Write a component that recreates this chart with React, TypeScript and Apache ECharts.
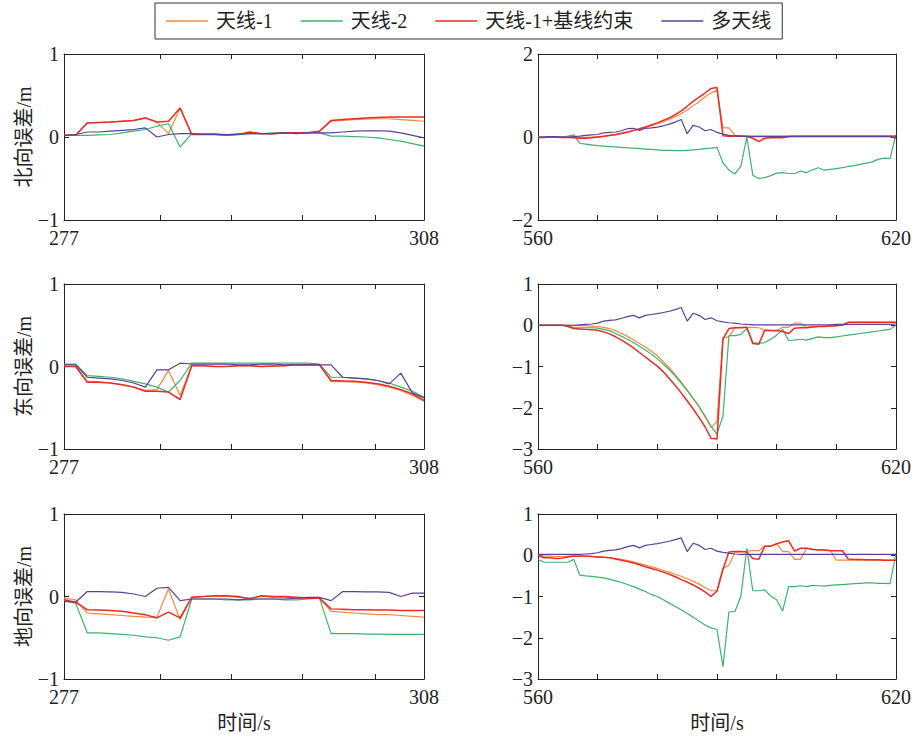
import React, { useEffect, useRef } from "react";
import * as echarts from "echarts";

// ---------- axes / categories ----------
const timeL = [277, 278, 279, 280, 281, 282, 283, 284, 285, 286, 287, 288, 289, 290, 291, 292, 293, 294, 295, 296, 297, 298, 299, 300, 301, 302, 303, 304, 305, 306, 307, 308];
const timeR = [560, 561, 562, 563, 564, 565, 566, 567, 568, 569, 570, 571, 572, 573, 574, 575, 576, 577, 578, 579, 580, 581, 582, 583, 584, 585, 586, 587, 588, 589, 590, 591, 592, 593, 594, 595, 596, 597, 598, 599, 600, 601, 602, 603, 604, 605, 606, 607, 608, 609, 610, 611, 612, 613, 614, 615, 616, 617, 618, 619, 620];
const leftTickValues = [285.3, 291.4, 297.5, 303.8];
const rightTickValues = [570, 580, 590, 600, 610];
const leftLabelValues = [277, 308];
const rightLabelValues = [560, 620];

const seriesNames = ["天线-1", "天线-2", "天线-1+基线约束", "多天线"];
const seriesColors = ["#F58A3B", "#3BB46B", "#EE2A24", "#5B3F9F"];
const yNames = ["北向误差/m", "东向误差/m", "地向误差/m"];
const xName = "时间/s";

// ---------- north, left (277-308) ----------
const northL1 = [0.02, 0.02, 0.17, 0.175, 0.18, 0.19, 0.2, 0.23, 0.18, 0.04, 0.35, 0.03, 0.03, 0.03, 0.02, 0.03, 0.05, 0.04, 0.04, 0.05, 0.05, 0.05, 0.07, 0.19, 0.2, 0.21, 0.215, 0.22, 0.22, 0.21, 0.2, 0.19];
const northL2 = [0.02, 0.02, 0.02, 0.025, 0.03, 0.05, 0.07, 0.09, 0.13, 0.16, -0.12, 0.04, 0.04, 0.04, 0.03, 0.04, 0.04, 0.04, 0.05, 0.05, 0.05, 0.05, 0.05, 0.01, 0.01, 0.005, 0.0, -0.01, -0.03, -0.05, -0.08, -0.11];
const northLB = [0.02, 0.02, 0.17, 0.175, 0.18, 0.19, 0.2, 0.23, 0.18, 0.19, 0.35, 0.03, 0.03, 0.03, 0.02, 0.03, 0.06, 0.04, 0.04, 0.05, 0.05, 0.05, 0.07, 0.2, 0.21, 0.22, 0.23, 0.235, 0.24, 0.24, 0.24, 0.24];
const northLM = [0.02, 0.03, 0.06, 0.06, 0.07, 0.08, 0.09, 0.11, 0.0, 0.03, 0.04, 0.04, 0.03, 0.03, 0.03, 0.03, 0.04, 0.04, 0.04, 0.05, 0.04, 0.05, 0.05, 0.05, 0.06, 0.07, 0.075, 0.075, 0.07, 0.05, 0.02, -0.01];

// ---------- east, left ----------
const eastL1 = [0.0, 0.0, -0.18, -0.185, -0.2, -0.22, -0.25, -0.29, -0.28, -0.05, -0.35, 0.01, 0.01, 0.0, 0.0, 0.01, 0.01, 0.0, 0.005, 0.01, 0.02, 0.02, 0.02, -0.18, -0.185, -0.19, -0.2, -0.22, -0.25, -0.29, -0.35, -0.42];
const eastL2 = [0.03, 0.03, -0.11, -0.12, -0.13, -0.15, -0.18, -0.21, -0.25, -0.31, -0.17, 0.04, 0.04, 0.04, 0.04, 0.04, 0.04, 0.04, 0.04, 0.04, 0.04, 0.04, 0.03, -0.13, -0.13, -0.14, -0.15, -0.17, -0.2, -0.25, -0.3, -0.37];
const eastLB = [0.0, 0.0, -0.19, -0.19, -0.2, -0.22, -0.25, -0.3, -0.3, -0.31, -0.4, 0.01, 0.01, 0.0, 0.0, 0.01, 0.01, 0.0, 0.005, 0.01, 0.02, 0.02, 0.02, -0.17, -0.175, -0.18, -0.19, -0.21, -0.24, -0.28, -0.33, -0.41];
const eastLM = [0.02, 0.02, -0.13, -0.14, -0.15, -0.17, -0.2, -0.25, -0.04, -0.04, 0.04, 0.03, 0.03, 0.03, 0.03, 0.02, 0.02, 0.03, 0.03, 0.02, 0.02, 0.02, 0.02, 0.02, -0.13, -0.14, -0.15, -0.17, -0.21, -0.08, -0.32, -0.38];

// ---------- down, left ----------
const downL1 = [-0.02, -0.04, -0.2, -0.21, -0.22, -0.23, -0.24, -0.25, -0.25, 0.09, -0.28, -0.01, 0.0, 0.0, 0.0, -0.01, -0.02, 0.0, -0.01, -0.01, -0.02, -0.02, -0.02, -0.18, -0.19, -0.2, -0.21, -0.22, -0.22, -0.23, -0.24, -0.25];
const downL2 = [-0.05, -0.08, -0.44, -0.44, -0.45, -0.46, -0.47, -0.49, -0.5, -0.53, -0.49, -0.03, -0.03, -0.03, -0.04, -0.04, -0.04, -0.03, -0.03, -0.04, -0.04, -0.03, -0.02, -0.45, -0.45, -0.45, -0.455, -0.455, -0.46, -0.46, -0.46, -0.46];
const downLB = [-0.04, -0.07, -0.16, -0.165, -0.17, -0.18, -0.2, -0.22, -0.26, -0.19, -0.26, -0.01, 0.0, 0.01, 0.01, 0.0, -0.03, 0.01, 0.0, 0.0, -0.01, -0.02, -0.02, -0.15, -0.155, -0.16, -0.16, -0.165, -0.165, -0.17, -0.17, -0.17];
const downLM = [-0.06, -0.07, 0.06, 0.06, 0.055, 0.05, 0.03, 0.0, 0.1, 0.11, -0.05, -0.03, -0.03, -0.03, -0.03, -0.04, -0.03, -0.03, -0.03, -0.03, -0.02, -0.01, -0.01, -0.05, 0.06, 0.06, 0.055, 0.055, 0.05, 0.0, 0.04, 0.04];

// ---------- north, right (560-620) ----------
const northR1 = [0.0, 0.0, 0.01, 0.0, 0.0, 0.0, -0.01, -0.01, -0.01, 0.0, 0.0, 0.01, 0.03, 0.05, 0.08, 0.11, 0.15, 0.19, 0.23, 0.27, 0.32, 0.37, 0.43, 0.49, 0.56, 0.65, 0.75, 0.85, 0.97, 1.06, 1.13, 0.22, 0.22, 0.04, 0.03, 0.03, 0.03, 0.03, 0.03, 0.03, 0.03, 0.03, 0.03, 0.03, 0.03, 0.03, 0.03, 0.03, 0.03, 0.03, 0.03, 0.03, 0.03, 0.03, 0.03, 0.03, 0.03, 0.03, 0.03, 0.03, 0.03];
const northR2 = [0.0, 0.0, 0.0, -0.01, 0.0, 0.02, 0.05, -0.15, -0.17, -0.19, -0.21, -0.22, -0.23, -0.24, -0.25, -0.26, -0.27, -0.28, -0.29, -0.3, -0.31, -0.32, -0.32, -0.33, -0.33, -0.32, -0.31, -0.3, -0.28, -0.27, -0.25, -0.62, -0.8, -0.89, -0.7, 0.0, -0.92, -1.0, -0.98, -0.93, -0.87, -0.86, -0.88, -0.88, -0.82, -0.86, -0.79, -0.74, -0.8, -0.78, -0.76, -0.74, -0.71, -0.69, -0.66, -0.63, -0.6, -0.54, -0.51, -0.52, 0.06];
const northRB = [-0.01, -0.01, 0.0, 0.0, -0.01, -0.01, -0.02, -0.03, -0.03, -0.02, 0.0, 0.02, 0.04, 0.06, 0.09, 0.12, 0.16, 0.2, 0.24, 0.29, 0.34, 0.4, 0.46, 0.54, 0.63, 0.74, 0.86, 0.96, 1.06, 1.17, 1.19, 0.03, 0.02, 0.02, 0.02, 0.02, -0.03, -0.11, -0.03, -0.02, -0.02, -0.02, 0.01, 0.02, 0.02, 0.02, 0.02, 0.02, 0.02, 0.02, 0.02, 0.02, 0.02, 0.02, 0.02, 0.02, 0.02, 0.02, 0.02, 0.02, 0.02];
const northRM = [0.0, 0.0, 0.01, 0.01, 0.0, 0.0, 0.01, 0.02, 0.04, 0.05, 0.06, 0.1, 0.11, 0.12, 0.15, 0.2, 0.21, 0.16, 0.21, 0.22, 0.24, 0.27, 0.31, 0.36, 0.42, 0.08, 0.28, 0.24, 0.15, 0.18, 0.11, 0.07, 0.04, 0.03, 0.02, 0.01, 0.01, 0.01, 0.01, 0.01, 0.01, 0.01, 0.01, 0.01, 0.01, 0.01, 0.01, 0.01, 0.01, 0.01, 0.01, 0.01, 0.01, 0.01, 0.01, 0.01, 0.01, 0.01, 0.01, 0.01, -0.03];

// ---------- east, right ----------
const eastR1 = [0.0, 0.0, 0.0, 0.0, 0.0, 0.0, -0.01, -0.01, -0.01, -0.02, -0.03, -0.05, -0.08, -0.13, -0.2, -0.27, -0.35, -0.44, -0.53, -0.63, -0.74, -0.88, -1.03, -1.2, -1.38, -1.57, -1.78, -1.98, -2.22, -2.48, -2.33, -0.3, -0.28, -0.06, -0.05, -0.05, -0.05, -0.06, -0.12, -0.13, -0.14, -0.05, -0.05, 0.05, 0.05, -0.05, -0.04, -0.03, -0.03, -0.02, -0.01, 0.0, 0.07, 0.07, 0.07, 0.07, 0.07, 0.07, 0.07, 0.07, 0.07];
const eastR2 = [0.0, 0.0, 0.0, 0.0, 0.0, -0.01, -0.06, -0.06, -0.06, -0.06, -0.07, -0.1, -0.13, -0.2, -0.27, -0.34, -0.42, -0.51, -0.6, -0.7, -0.81, -0.94, -1.08, -1.23, -1.4, -1.58, -1.77, -1.97, -2.2, -2.45, -2.64, -2.2, -0.25, -0.25, -0.22, -0.08, -0.42, -0.44, -0.42, -0.34, -0.24, -0.1, -0.37, -0.36, -0.34, -0.36, -0.32, -0.28, -0.3, -0.3, -0.28, -0.26, -0.24, -0.22, -0.2, -0.18, -0.16, -0.14, -0.12, -0.1, 0.0];
const eastRB = [0.0, 0.0, 0.0, 0.0, 0.0, -0.03, -0.08, -0.09, -0.1, -0.11, -0.12, -0.16, -0.21, -0.28, -0.36, -0.45, -0.55, -0.66, -0.77, -0.88, -0.99, -1.13, -1.29, -1.46, -1.64, -1.83, -2.03, -2.24, -2.46, -2.74, -2.76, -0.33, -0.08, -0.06, -0.06, -0.05, -0.44, -0.46, -0.12, -0.13, -0.13, -0.15, -0.2, -0.07, -0.06, -0.06, -0.04, -0.03, -0.03, -0.02, -0.01, 0.0, 0.07, 0.07, 0.07, 0.07, 0.07, 0.07, 0.07, 0.07, 0.07];
const eastRM = [0.0, 0.0, 0.0, 0.0, 0.0, 0.0, 0.0, 0.01, 0.02, 0.03, 0.05, 0.1, 0.12, 0.13, 0.17, 0.21, 0.24, 0.18, 0.24, 0.26, 0.28, 0.31, 0.34, 0.38, 0.43, 0.1, 0.29, 0.24, 0.14, 0.18, 0.11, 0.08, 0.06, 0.05, 0.03, 0.02, 0.01, 0.01, 0.01, 0.01, 0.01, 0.01, 0.01, 0.01, 0.01, 0.01, 0.01, 0.01, 0.01, 0.01, 0.02, 0.02, 0.02, 0.02, 0.02, 0.02, 0.02, 0.02, 0.02, 0.02, 0.03];

// ---------- down, right ----------
const downR1 = [0.0, -0.02, -0.02, -0.03, -0.03, -0.02, -0.02, -0.03, -0.03, -0.03, -0.04, -0.05, -0.06, -0.08, -0.1, -0.13, -0.16, -0.2, -0.24, -0.28, -0.32, -0.37, -0.41, -0.46, -0.51, -0.57, -0.63, -0.7, -0.78, -0.86, -0.86, -0.32, -0.24, 0.07, 0.08, 0.1, 0.11, 0.11, 0.22, 0.22, 0.28, 0.09, 0.09, -0.1, -0.1, 0.17, 0.15, 0.13, 0.13, 0.12, -0.12, -0.12, -0.12, -0.12, -0.12, -0.12, -0.12, -0.12, -0.12, -0.12, -0.12];
const downR2 = [-0.1, -0.17, -0.17, -0.17, -0.17, -0.17, -0.1, -0.48, -0.5, -0.51, -0.53, -0.55, -0.58, -0.62, -0.66, -0.71, -0.76, -0.82, -0.88, -0.95, -1.0, -1.08, -1.16, -1.24, -1.32, -1.41, -1.5, -1.6, -1.69, -1.76, -1.8, -2.7, -1.37, -1.37, -0.99, 0.17, -0.86, -0.86, -0.84, -0.99, -1.08, -1.35, -0.76, -0.76, -0.74, -0.76, -0.73, -0.74, -0.75, -0.73, -0.72, -0.71, -0.7, -0.69, -0.68, -0.67, -0.67, -0.68, -0.68, -0.69, 0.05];
const downRB = [0.0, -0.06, -0.06, -0.08, -0.07, -0.04, -0.02, -0.02, -0.02, -0.03, -0.04, -0.05, -0.06, -0.09, -0.12, -0.15, -0.19, -0.23, -0.28, -0.32, -0.36, -0.41, -0.46, -0.52, -0.59, -0.65, -0.72, -0.8, -0.89, -1.0, -0.87, -0.34, 0.08, 0.09, 0.09, 0.08, -0.08, -0.1, 0.22, 0.22, 0.28, 0.32, 0.35, 0.1, 0.17, 0.17, 0.14, 0.13, 0.13, 0.11, 0.11, 0.11, -0.09, -0.1, -0.1, -0.11, -0.11, -0.11, -0.12, -0.12, -0.12];
const downRM = [0.02, 0.02, 0.02, 0.02, 0.02, 0.02, 0.02, 0.02, 0.03, 0.04, 0.06, 0.1, 0.12, 0.13, 0.16, 0.21, 0.24, 0.18, 0.24, 0.26, 0.28, 0.31, 0.34, 0.38, 0.42, 0.09, 0.29, 0.24, 0.14, 0.17, 0.1, 0.07, 0.05, 0.03, 0.02, 0.02, 0.02, 0.02, 0.02, 0.02, 0.02, 0.02, 0.02, 0.02, 0.02, 0.02, 0.02, 0.02, 0.02, 0.02, 0.02, 0.02, 0.02, 0.02, 0.02, 0.02, 0.02, 0.02, 0.02, 0.02, 0.02];

const FONT = "Liberation Serif, Noto Sans CJK SC, serif";
const INK = "#222222";

export default function App() {
  const ref = useRef<HTMLDivElement>(null);

  useEffect(() => {
    document.body.style.margin = "0";
    if (!ref.current) return;
    const chart = echarts.init(ref.current, undefined, { renderer: "svg" });

    const panels = [
      { t: timeL, ys: [northL1, northL2, northLB, northLM], left: true, yMin: -1, yMax: 1, yInt: 1, row: 0 },
      { t: timeR, ys: [northR1, northR2, northRB, northRM], left: false, yMin: -2, yMax: 2, yInt: 2, row: 0 },
      { t: timeL, ys: [eastL1, eastL2, eastLB, eastLM], left: true, yMin: -1, yMax: 1, yInt: 1, row: 1 },
      { t: timeR, ys: [eastR1, eastR2, eastRB, eastRM], left: false, yMin: -3, yMax: 1, yInt: 1, row: 1 },
      { t: timeL, ys: [downL1, downL2, downLB, downLM], left: true, yMin: -1, yMax: 1, yInt: 1, row: 2 },
      { t: timeR, ys: [downR1, downR2, downRB, downRM], left: false, yMin: -3, yMax: 1, yInt: 1, row: 2 },
    ];
    const rowTops = [54, 284, 514];
    const rowHeights = [166, 165, 165];

    const grid: any[] = [];
    const xAxis: any[] = [];
    const yAxis: any[] = [];
    const series: any[] = [];

    const minus = (v: number) => String(v).replace("-", "\u2212");
    const axisLine = { show: true, onZero: false, lineStyle: { color: INK, width: 1 } };
    const label = { color: INK, fontSize: 20, fontFamily: FONT };

    panels.forEach((p, i) => {
      grid.push({
        left: p.left ? 64 : 538,
        top: rowTops[p.row],
        width: p.left ? 360 : 358,
        height: rowHeights[p.row],
        containLabel: false,
      });
      const xMin = p.t[0];
      const xMax = p.t[p.t.length - 1];
      const ticks = p.left ? leftTickValues : rightTickValues;
      const labs = p.left ? leftLabelValues : rightLabelValues;
      const common = {
        type: "value",
        gridIndex: i,
        min: xMin,
        max: xMax,
        splitLine: { show: false },
        axisLine,
      };
      xAxis.push({
        ...common,
        position: "bottom",
        axisTick: { show: true, inside: true, length: 5, customValues: ticks, lineStyle: { color: INK } },
        axisLabel: { ...label, margin: 8, customValues: labs, formatter: (v: number) => String(v) },
        name: p.row === 2 ? xName : "",
        nameLocation: "middle",
        nameGap: 34,
        nameTextStyle: { ...label },
      });
      xAxis.push({
        ...common,
        position: "top",
        axisTick: { show: true, inside: true, length: 5, customValues: ticks, lineStyle: { color: INK } },
        axisLabel: { show: false },
      });
      const yCommon = {
        type: "value",
        gridIndex: i,
        min: p.yMin,
        max: p.yMax,
        interval: p.yInt,
        splitLine: { show: false },
        axisLine,
        axisTick: { show: true, inside: true, length: 5, lineStyle: { color: INK } },
      };
      yAxis.push({
        ...yCommon,
        position: "left",
        axisLabel: { ...label, margin: 5, formatter: minus },
        name: p.left ? yNames[p.row] : "",
        nameLocation: "middle",
        nameGap: 30,
        nameRotate: 90,
        nameTextStyle: { ...label },
      });
      yAxis.push({
        ...yCommon,
        position: "right",
        axisLabel: { show: false },
      });
      p.ys.forEach((vals, k) => {
        series.push({
          name: seriesNames[k],
          type: "line",
          xAxisIndex: i * 2,
          yAxisIndex: i * 2,
          data: p.t.map((tt, j) => [tt, vals[j]]),
          symbol: "none",
          showSymbol: false,
          lineStyle: { color: seriesColors[k], width: k === 2 ? 1.5 : 1.2 },
          itemStyle: { color: seriesColors[k] },
          silent: true,
        });
      });
    });

    chart.setOption({
      animation: false,
      backgroundColor: "#ffffff",
      textStyle: { fontFamily: FONT, color: INK },
      legend: {
        data: seriesNames.map((n) => ({ name: n, icon: "rect" })),
        left: 155,
        top: 3,
        padding: [8, 11],
        itemWidth: 42,
        itemHeight: 1.5,
        itemGap: 28,
        borderColor: "#333333",
        borderWidth: 1,
        backgroundColor: "#ffffff",
        textStyle: { color: INK, fontSize: 20, fontFamily: FONT, padding: [0, 0, 0, 3] },
      },
      grid,
      xAxis,
      yAxis,
      series,
    });

    return () => chart.dispose();
  }, []);

  return <div ref={ref} style={{ width: 915, height: 740 }} />;
}
